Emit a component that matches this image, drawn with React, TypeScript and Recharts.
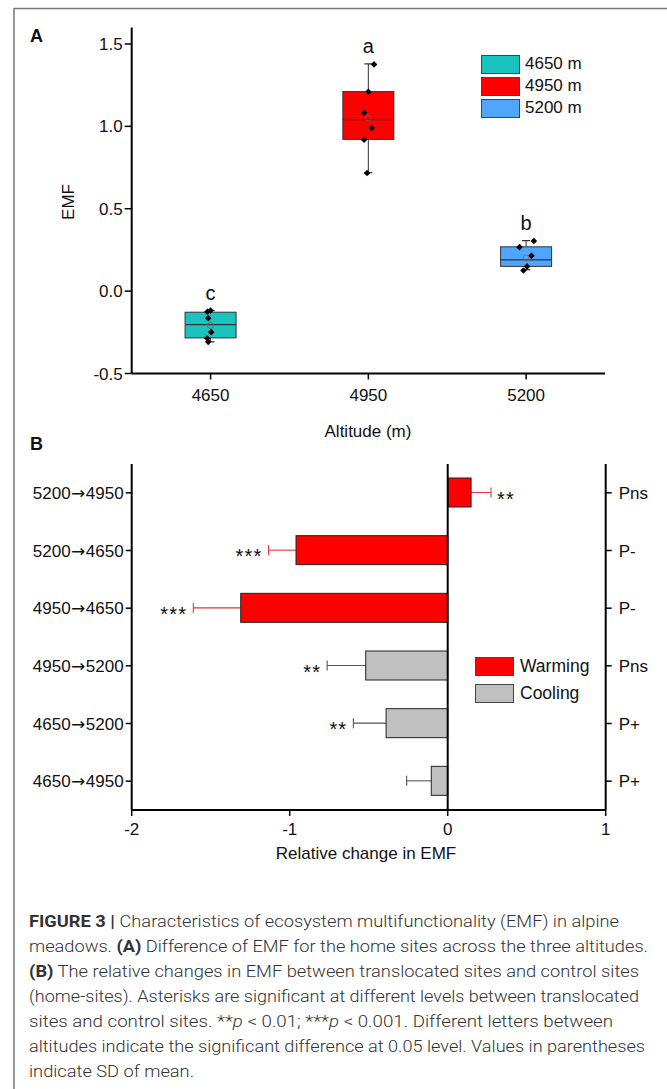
import React from 'react';
import { ComposedChart, BarChart, Bar, Scatter, XAxis, YAxis, ReferenceLine, Legend } from 'recharts';

// ---------- Panel A data ----------
const altitudes = ['4650', '4950', '5200'];
const altPos = [0, 1, 2];
const boxMin = [-0.308, 0.719, 0.13];
const boxQ1 = [-0.284, 0.921, 0.15];
const boxMedian = [-0.203, 1.041, 0.19];
const boxQ3 = [-0.128, 1.211, 0.269];
const boxMax = [-0.118, 1.379, 0.307];
const boxMean = [-0.209, 1.051, 0.202];
const sigLetters = ['c', 'a', 'b'];
const legendA = ['4650 m', '4950 m', '5200 m'];

const points4650 = [-0.118, -0.125, -0.164, -0.249, -0.286, -0.308];
const points4950 = [1.376, 1.21, 1.083, 0.99, 0.919, 0.717];
const points5200 = [0.304, 0.267, 0.214, 0.15, 0.125];
const jitter4650 = [0, -0.02, -0.015, 0.004, -0.021, -0.015];
const jitter4950 = [0.036, 0, -0.027, 0.021, -0.027, -0.008];
const jitter5200 = [0.049, -0.042, 0.034, 0.006, -0.017];

// ---------- Panel B data ----------
const routes = ['5200→4950', '5200→4650', '4950→4650', '4950→5200', '4650→5200', '4650→4950'];
const relChange = [0.148, -0.96, -1.31, -0.519, -0.39, -0.104];
const relSD = [0.126, 0.174, 0.3, 0.244, 0.207, 0.156];
const sigStars = ['**', '***', '***', '**', '**', ''];
const groups = ['Warming', 'Warming', 'Warming', 'Cooling', 'Cooling', 'Cooling'];
const pLabels = ['Pns', 'P-', 'P-', 'Pns', 'P+', 'P+'];
const legendB = ['Warming', 'Cooling'];

// ---------- styles ----------
const FONT = "Arial, 'Liberation Sans', Helvetica, sans-serif";
const boxColors = ['#19C3BF', '#FF0000', '#50A6FF'];
const groupColors: Record<string, string> = { Warming: '#FF0000', Cooling: '#C0C0C0' };
const errColors: Record<string, string> = { Warming: '#E0383C', Cooling: '#555555' };
const BOX_W = 51;

const boxData = altitudes.map((a, i) => ({
  x: altPos[i],
  label: a,
  min: boxMin[i],
  q1: boxQ1[i],
  median: boxMedian[i],
  q3: boxQ3[i],
  max: boxMax[i],
  letter: sigLetters[i],
  color: boxColors[i],
}));

const pointData = [
  ...points4650.map((y, j) => ({ x: altPos[0] + jitter4650[j], y })),
  ...points4950.map((y, j) => ({ x: altPos[1] + jitter4950[j], y })),
  ...points5200.map((y, j) => ({ x: altPos[2] + jitter5200[j], y })),
];
const meanData = altPos.map((x, i) => ({ x, y: boxMean[i] }));

const barData = routes.map((r, i) => ({
  route: r,
  value: relChange[i],
  err: relSD[i],
  sig: sigStars[i],
  group: groups[i],
}));

const BoxShape = (p: any) => {
  const { x, y, width, height, payload } = p;
  const d = payload;
  const ppu = height / (d.q3 - d.q1);
  const py = (v: number) => y + (d.q3 - v) * ppu;
  const cx = x + width / 2;
  const bx = cx - BOX_W / 2;
  const cap = 4;
  const stroke = '#333';
  return (
    <g>
      <line x1={cx} x2={cx} y1={py(d.max)} y2={y} stroke={stroke} strokeWidth={1} />
      <line x1={cx} x2={cx} y1={y + height} y2={py(d.min)} stroke={stroke} strokeWidth={1} />
      <line x1={cx - cap} x2={cx + cap} y1={py(d.max)} y2={py(d.max)} stroke={stroke} strokeWidth={1.2} />
      <line x1={cx - cap} x2={cx + cap} y1={py(d.min)} y2={py(d.min)} stroke={stroke} strokeWidth={1.2} />
      <rect x={bx} y={y} width={BOX_W} height={height} fill={d.color} stroke={stroke} strokeWidth={1} />
      <line x1={bx} x2={bx + BOX_W} y1={py(d.median)} y2={py(d.median)} stroke={stroke} strokeWidth={1.2} />
      <text x={cx} y={py(d.max) - 11} textAnchor="middle" fontSize={20} fontFamily={FONT} fill="#111">
        {d.letter}
      </text>
    </g>
  );
};

const Diamond = (p: any) => {
  const { cx, cy } = p;
  const s = 3.3;
  return <polygon points={`${cx},${cy - s} ${cx + s},${cy} ${cx},${cy + s} ${cx - s},${cy}`} fill="#000" />;
};

const MeanCircle = (p: any) => {
  const { cx, cy } = p;
  return <circle cx={cx} cy={cy} r={3} fill="none" stroke="#666" strokeWidth={0.8} />;
};

const EffectBar = (p: any) => {
  const { x, y, width, height, payload } = p;
  const left = Math.min(x, x + width);
  const w = Math.abs(width);
  const v = payload.value;
  const ppu = w / Math.abs(v);
  const cy = y + height / 2;
  const end = v < 0 ? left : left + w;
  const errEnd = v < 0 ? end - payload.err * ppu : end + payload.err * ppu;
  const ec = errColors[payload.group];
  return (
    <g>
      <line x1={end} x2={errEnd} y1={cy} y2={cy} stroke={ec} strokeWidth={1.1} />
      <line x1={errEnd} x2={errEnd} y1={cy - 5} y2={cy + 5} stroke={ec} strokeWidth={1.1} />
      <rect x={left} y={y} width={w} height={height} fill={groupColors[payload.group]} stroke="#222" strokeWidth={1} />
      {payload.sig ? (
        <text
          x={v < 0 ? errEnd - 6 : errEnd + 6}
          y={cy + 13}
          textAnchor={v < 0 ? 'end' : 'start'}
          fontSize={20}
          letterSpacing={1.2}
          fontFamily={FONT}
          fill="#111"
        >
          {payload.sig}
        </text>
      ) : null}
    </g>
  );
};

const RouteTick = (p: any) => {
  const { x, y, payload } = p;
  const [a, b] = String(payload.value).split('→');
  return (
    <text x={x} y={y} dy="0.36em" textAnchor="end" fontSize={17} fontFamily={FONT} fill="#111">
      {a}
      <tspan fontFamily="'DejaVu Sans', sans-serif" fontSize={17} dx={0.5}>→</tspan>
      <tspan dx={0.5}>{b}</tspan>
    </text>
  );
};

const LegendA = () => (
  <div style={{ fontFamily: FONT, fontSize: 17, color: '#111' }}>
    {legendA.map((l, i) => (
      <div key={l} style={{ display: 'flex', alignItems: 'center', height: 22 }}>
        <div style={{ width: 37, height: 17, background: boxColors[i], border: '1px solid #444', marginRight: 5 }} />
        <span>{l}</span>
      </div>
    ))}
  </div>
);

const LegendB = () => (
  <div style={{ fontFamily: FONT, fontSize: 17.5, color: '#111' }}>
    {legendB.map((l) => (
      <div key={l} style={{ display: 'flex', alignItems: 'center', height: 27 }}>
        <div style={{ width: 37, height: 17, background: groupColors[l], border: '1px solid #444', marginRight: 6 }} />
        <span>{l}</span>
      </div>
    ))}
  </div>
);

const tickStyle = { fontSize: 17, fill: '#111', fontFamily: FONT };
const axisLine = { stroke: '#000', strokeWidth: 2 };
const tickLine = { stroke: '#000', strokeWidth: 1.5 };

const captionLines: { parts: { t: string; b?: boolean; i?: boolean }[]; end: number }[] = [
  { parts: [{ t: 'FIGURE 3 | ', b: true }, { t: 'Characteristics of ecosystem multifunctionality (EMF) in alpine' }], end: 619 },
  { parts: [{ t: 'meadows. ' }, { t: '(A)', b: true }, { t: ' Difference of EMF for the home sites across the three altitudes.' }], end: 648 },
  { parts: [{ t: '(B)', b: true }, { t: ' The relative changes in EMF between translocated sites and control sites' }], end: 639 },
  { parts: [{ t: '(home-sites). Asterisks are significant at different levels between translocated' }], end: 639 },
  { parts: [{ t: 'sites and control sites. **' }, { t: 'p', i: true }, { t: ' < 0.01; ***' }, { t: 'p', i: true }, { t: ' < 0.001. Different letters between' }], end: 613 },
  { parts: [{ t: 'altitudes indicate the significant difference at 0.05 level. Values in parentheses' }], end: 645 },
  { parts: [{ t: 'indicate SD of mean.' }], end: 194 },
];

export default function App() {
  return (
    <div style={{ position: 'absolute', left: 0, top: 0, width: 667, height: 1089, background: '#fff', overflow: 'hidden' }}>
      {/* Panel A */}
      <div style={{ position: 'absolute', left: 0, top: 0 }}>
        <ComposedChart width={667} height={440} data={boxData} margin={{ top: 27.5, right: 62, bottom: 36.5, left: 71.7 }}>
          <XAxis
            dataKey="x"
            type="number"
            domain={[-0.5, 2.5]}
            ticks={altPos}
            tickFormatter={(v: number) => altitudes[Math.round(v)]}
            allowDataOverflow
            height={30}
            tick={tickStyle}
            tickSize={6}
            tickMargin={9}
            axisLine={axisLine}
            tickLine={tickLine}
          />
          <XAxis xAxisId="frame" orientation="top" type="number" domain={[-0.5, 2.5]} height={0} tick={false} tickLine={false} axisLine={axisLine} />
          <YAxis
            type="number"
            domain={[-0.5, 1.6]}
            ticks={[-0.5, 0, 0.5, 1, 1.5]}
            tickFormatter={(v: number) => v.toFixed(1)}
            allowDataOverflow
            width={60}
            tick={tickStyle}
            tickSize={7}
            tickMargin={2}
            axisLine={axisLine}
            tickLine={tickLine}
          />
          <YAxis yAxisId="frame" orientation="right" type="number" domain={[-0.5, 1.6]} width={0} tick={false} tickLine={false} axisLine={axisLine} />
          <Bar dataKey={(d: any) => [d.q1, d.q3]} barSize={BOX_W} shape={BoxShape} isAnimationActive={false} />
          <Scatter data={pointData} dataKey="y" shape={Diamond} isAnimationActive={false} />
          <Scatter data={meanData} dataKey="y" shape={MeanCircle} isAnimationActive={false} />
          <Legend
            layout="horizontal"
            verticalAlign="middle"
            align="center"
            content={LegendA}
            wrapperStyle={{ position: 'absolute', left: 481, top: 53, width: 120 }}
          />
        </ComposedChart>
      </div>

      {/* Panel B */}
      <div style={{ position: 'absolute', left: 0, top: 440 }}>
        <BarChart layout="vertical" width={667} height={420} data={barData} margin={{ top: 24, right: 11.3, bottom: 20, left: 21.7 }}>
          <XAxis
            type="number"
            domain={[-2, 1]}
            ticks={[-2, -1, 0, 1]}
            allowDataOverflow
            height={30}
            tick={tickStyle}
            tickSize={6}
            tickMargin={7}
            axisLine={axisLine}
            tickLine={tickLine}
          />
          <XAxis xAxisId="frame" orientation="top" type="number" domain={[-2, 1]} height={0} tick={false} tickLine={false} axisLine={axisLine} />
          <YAxis
            type="category"
            dataKey="route"
            width={110}
            tick={RouteTick}
            tickSize={6}
            tickMargin={2}
            axisLine={axisLine}
            tickLine={tickLine}
          />
          <YAxis
            yAxisId="right"
            orientation="right"
            type="category"
            dataKey="route"
            tickFormatter={(_v: any, i: number) => pLabels[i]}
            width={50}
            tick={{ ...tickStyle, textAnchor: 'start' }}
            tickSize={6}
            tickMargin={7}
            axisLine={axisLine}
            tickLine={tickLine}
          />
          <ReferenceLine x={0} stroke="#000" strokeWidth={2} />
          <Bar dataKey="value" barSize={29} shape={EffectBar} isAnimationActive={false} />
          <Legend
            layout="horizontal"
            verticalAlign="middle"
            align="center"
            content={LegendB}
            wrapperStyle={{ position: 'absolute', left: 475, top: 213, width: 130 }}
          />
        </BarChart>
      </div>

      {/* Overlay: frame, panel letters, axis titles, caption */}
      <svg width={667} height={1089} style={{ position: 'absolute', left: 0, top: 0, pointerEvents: 'none' }}>
        <line x1={14} x2={667} y1={8.5} y2={8.5} stroke="#777" strokeWidth={1.5} />
        <line x1={14} x2={14} y1={8} y2={1089} stroke="#777" strokeWidth={1.5} />
        <text x={30} y={42} fontSize={18} fontWeight="bold" fontFamily={FONT} fill="#111">A</text>
        <text x={30} y={450} fontSize={18} fontWeight="bold" fontFamily={FONT} fill="#111">B</text>
        <text x={68} y={202} transform="rotate(-90 68 202)" textAnchor="middle" dominantBaseline="central" fontSize={17} fontFamily={FONT} fill="#111">EMF</text>
        <text x={368} y={431} textAnchor="middle" dominantBaseline="central" fontSize={17} fontFamily={FONT} fill="#111">Altitude (m)</text>
        <text x={366} y={853} textAnchor="middle" dominantBaseline="central" fontSize={17} fontFamily={FONT} fill="#111">Relative change in EMF</text>
        {captionLines.map((ln, k) => (
          <text
            key={k}
            x={29}
            y={927 + k * 25}
            fontSize={17}
            fontFamily="Roboto, 'Liberation Sans', sans-serif"
            fontWeight={300}
            fill="#333"
            textLength={ln.end - 29}
            lengthAdjust="spacingAndGlyphs"
          >
            {ln.parts.map((pt, j) => (
              <tspan key={j} fontWeight={pt.b ? 'bold' : 300} fontStyle={pt.i ? 'italic' : 'normal'}>
                {pt.t}
              </tspan>
            ))}
          </text>
        ))}
      </svg>
    </div>
  );
}
